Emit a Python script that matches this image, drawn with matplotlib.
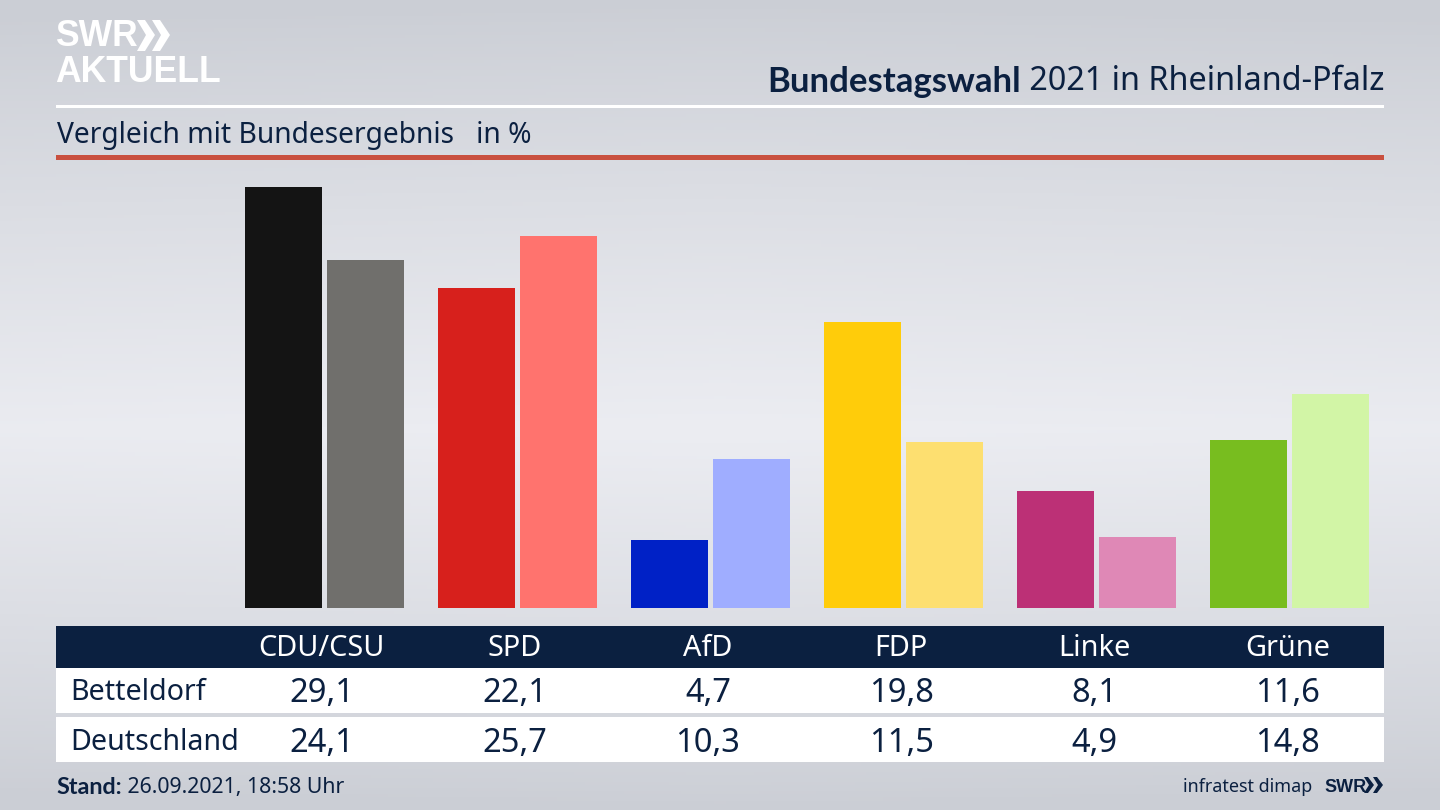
import numpy as np
from matplotlib import pyplot as plt
from matplotlib.patches import Rectangle, Polygon

plt.rcParams['font.family'] = ['Noto Sans', 'DejaVu Sans']

parties = ['CDU/CSU', 'SPD', 'AfD', 'FDP', 'Linke', 'Grüne']
betteldorf = [29.1, 22.1, 4.7, 19.8, 8.1, 11.6]
deutschland = [24.1, 25.7, 10.3, 11.5, 4.9, 14.8]
colors_local = ['#141414', '#d7201c', '#0021c6', '#ffcc0a', '#bc3076', '#78bd1f']
colors_bund = ['#706f6c', '#ff736e', '#9fadff', '#fddf70', '#df88b6', '#d2f5a6']
row_names = ['Betteldorf', 'Deutschland']

NAVY = '#0b2040'
BOLD = ['Lato', 'DejaVu Sans']
fmt = lambda v: f'{v:.1f}'.replace('.', ',')

fig = plt.figure(figsize=(14.4, 8.1), dpi=100)

# hintergrund + alles drumherum in pixelkoordinaten
bg = fig.add_axes([0, 0, 1, 1])
bg.set_xlim(0, 1440)
bg.set_ylim(810, 0)
bg.axis('off')

yy = np.linspace(0, 1, 256)
shade = np.interp(yy, [0, 0.53, 1], [0, 1, 0]) ** 0.85
xx = np.abs(np.linspace(-1, 1, 256))
grad = shade[:, None] - 0.05 * xx[None, :]
c0 = np.array([0xcb, 0xce, 0xd5]) / 255
c1 = np.array([0xec, 0xed, 0xf2]) / 255
img = c0 + (c1 - c0) * np.clip(grad, 0, 1)[:, :, None]
bg.imshow(img, extent=[0, 1440, 810, 0], aspect='auto', zorder=0)

# logo
bg.text(55, 36, 'SWR', color='white', fontsize=25.6, fontweight='bold', family='Liberation Sans', va='center', ha='left')
bg.text(55, 72, 'AKTUELL', color='white', fontsize=25.6, fontweight='bold', family='Liberation Sans', va='center', ha='left')
for x0 in (137, 152):
    bg.add_patch(Polygon([(x0, 20), (x0 + 8, 20), (x0 + 18, 35), (x0 + 8, 51), (x0, 51), (x0 + 9, 35)],
                         color='white', lw=0, zorder=3))

# titel
t2 = bg.text(1384, 82, ' 2021 in Rheinland-Pfalz', color=NAVY, fontsize=23.3, va='center', ha='right')
bg.annotate('Bundestagswahl', xy=(0, 0.5), xycoords=t2, ha='right', va='center',
            color=NAVY, fontsize=25, fontweight='bold', family=BOLD)
bg.add_patch(Rectangle((56, 104.5), 1328, 3, color='white', lw=0, zorder=2))
bg.text(57, 135, 'Vergleich mit Bundesergebnis   in %', color=NAVY, fontsize=20.3, va='center', ha='left')
bg.add_patch(Rectangle((56, 155), 1328, 5, color='#c9503f', lw=0, zorder=2))

# tabelle
bg.add_patch(Rectangle((56, 626), 1328, 42, color=NAVY, lw=0, zorder=2))
bg.add_patch(Rectangle((56, 668), 1328, 45, color='white', lw=0, zorder=2))
bg.add_patch(Rectangle((56, 717), 1328, 45, color='white', lw=0, zorder=2))

centers = 321.5 + 193.2 * np.arange(len(parties))
for cx, p in zip(centers, parties):
    bg.text(cx, 649, p, color='white', fontsize=20.8, ha='center', va='center', zorder=3)
for cx, a, b in zip(centers, betteldorf, deutschland):
    bg.text(cx, 694, fmt(a), color=NAVY, fontsize=23.5, ha='center', va='center', zorder=3)
    bg.text(cx, 743, fmt(b), color=NAVY, fontsize=23.5, ha='center', va='center', zorder=3)
bg.text(70, 693, row_names[0], color=NAVY, fontsize=20.6, ha='left', va='center', zorder=3)
bg.text(70, 742, row_names[1], color=NAVY, fontsize=20.6, ha='left', va='center', zorder=3)

# fusszeile
t3 = bg.text(56, 788, 'Stand:', color=NAVY, fontsize=16.8, fontweight='bold', family=BOLD, ha='left', va='center')
bg.annotate(' 26.09.2021, 18:58 Uhr', xy=(1, 0.5), xycoords=t3, ha='left', va='center',
            color=NAVY, fontsize=15.3)
bg.text(1312, 787, 'infratest dimap', color=NAVY, fontsize=12.9, ha='right', va='center')
bg.text(1324, 787, 'SWR', color=NAVY, fontsize=13, fontweight='bold', family='Liberation Sans', ha='left', va='center')
for x0 in (1364, 1373):
    bg.add_patch(Polygon([(x0, 777), (x0 + 4, 777), (x0 + 10, 785), (x0 + 4, 793), (x0, 793), (x0 + 5, 785)],
                         color=NAVY, lw=0, zorder=3))

# balken
ax = fig.add_axes([0, (810 - 608) / 810, 1, (608 - 170) / 810])
ax.patch.set_alpha(0)
ax.axis('off')
ax.set_xlim(0, 1440)
ax.set_ylim(0, 438 / 14.46)
bar_centers = 324.5 + 193 * np.arange(len(parties))
ax.bar(bar_centers - 41, betteldorf, width=76.5, color=colors_local)
ax.bar(bar_centers + 41, deutschland, width=76.5, color=colors_bund)

fig.savefig('out.png', dpi=100)
